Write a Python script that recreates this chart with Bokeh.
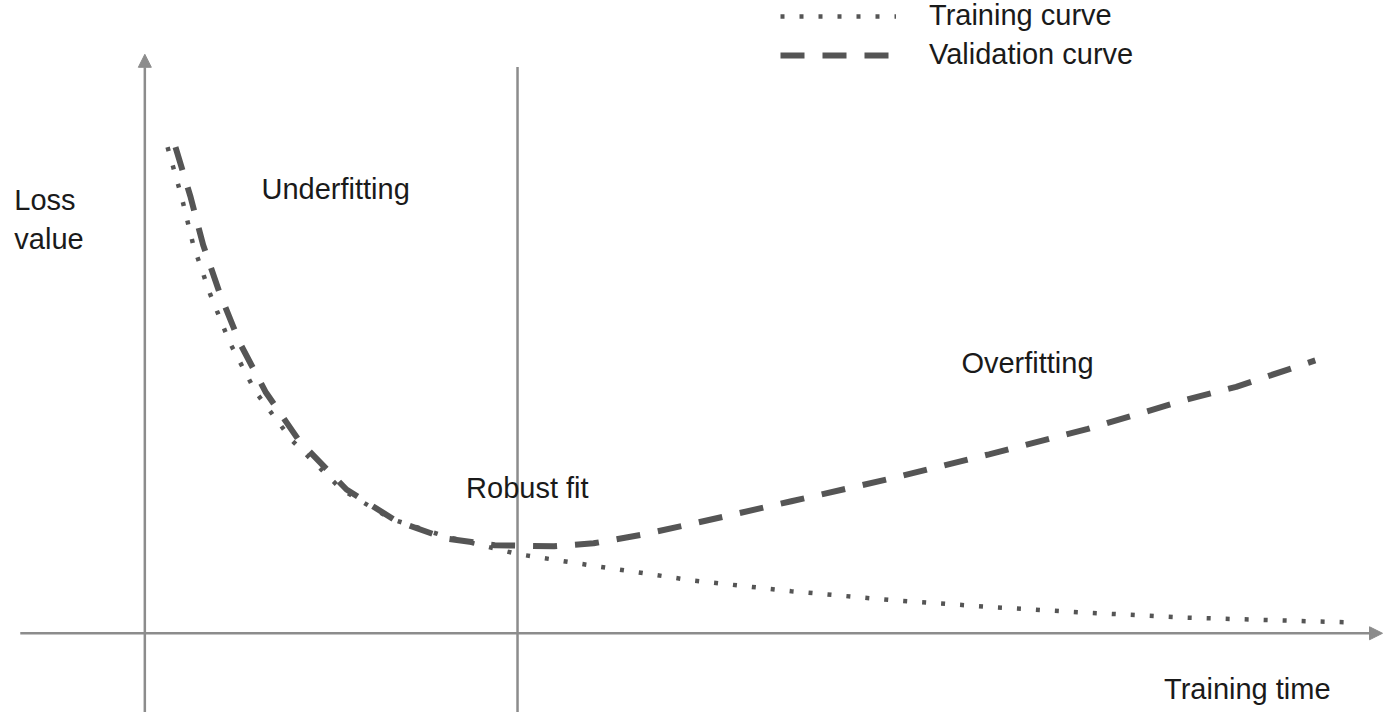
from bokeh.plotting import figure
from bokeh.models import Range1d, Arrow, NormalHead, Legend, LegendItem
from bokeh.core.properties import value
from bokeh.embed import file_html
from bokeh.resources import INLINE

# ---- data (arbitrary units: training time vs loss value) ----
train_time = [0.23, 0.37, 0.49, 0.66, 0.86, 1.12, 1.49, 1.99, 2.49, 3.04, 3.77,
              4.54, 5.54, 6.54, 7.54, 8.54, 9.54, 10.54, 11.54, 12.24]
train_loss = [4.97, 4.47, 3.97, 3.47, 2.97, 2.47, 1.97, 1.47, 1.17, 0.99, 0.81,
              0.69, 0.54, 0.43, 0.34, 0.27, 0.21, 0.16, 0.13, 0.11]

val_time = [0.31, 0.46, 0.59, 0.76, 0.96, 1.22, 1.56, 2.04, 2.54, 3.04, 3.54,
            4.14, 4.54, 5.04, 5.54, 6.54, 7.54, 8.54, 9.54, 10.54, 11.04, 11.84]
val_loss = [4.97, 4.47, 3.97, 3.47, 2.97, 2.47, 1.97, 1.47, 1.15, 0.97, 0.90,
            0.89, 0.92, 1.01, 1.12, 1.35, 1.58, 1.83, 2.09, 2.39, 2.52, 2.79]

robust_fit_time = 3.77
series_labels = ["Training curve", "Validation curve"]

region_labels = ["Underfitting", "Robust fit", "Overfitting"]
region_x = [1.18, 3.25, 8.26]
region_y = [4.54, 1.49, 2.76]

axis_labels = ["Loss", "value", "Training time"]
axis_label_x = [-1.32, -1.32, 10.31]
axis_label_y = [4.43, 4.03, -0.57]

# ---- figure ----
W, H = 1384, 712
p = figure(width=W, height=H, output_backend="svg", toolbar_location=None,
           x_range=Range1d(-1.46, 12.54), y_range=Range1d(-0.81, 6.47),
           min_border=0, min_border_left=0, min_border_right=0,
           min_border_top=0, min_border_bottom=0)
p.axis.visible = False
p.xgrid.visible = False
p.ygrid.visible = False
p.outline_line_color = None
p.background_fill_color = "white"
p.border_fill_color = "white"

AX = "#8c8c8c"
CUR = "#555555"
TXT = "#1a1a1a"
FONT_NAME = "Liberation Sans"
FONT = value(FONT_NAME)
FS = "29px"

# axes with arrows
p.add_layout(Arrow(end=NormalHead(size=13, fill_color=AX, line_color=AX),
                   x_start=-1.26, y_start=0, x_end=12.52, y_end=0,
                   line_color=AX, line_width=2.5))
p.add_layout(Arrow(end=NormalHead(size=13, fill_color=AX, line_color=AX),
                   x_start=0, y_start=-0.81, x_end=0, y_end=5.92,
                   line_color=AX, line_width=2.5))
# robust fit divider
p.segment(x0=[robust_fit_time], y0=[-0.81], x1=[robust_fit_time], y1=[5.79],
          line_color=AX, line_width=2.5)

# curves
r_train = p.line(train_time, train_loss, line_color=CUR, line_width=4.5,
                 line_dash="4 15", line_cap="butt")
r_val = p.line(val_time, val_loss, line_color=CUR, line_width=6,
               line_dash="24 18", line_cap="butt")

# texts
p.text(x=region_x, y=region_y, text=region_labels, text_font=FONT,
       text_font_size=FS, text_color=TXT, text_baseline="alphabetic",
       text_align="left")
p.text(x=axis_label_x, y=axis_label_y, text=axis_labels, text_font=FONT,
       text_font_size=FS, text_color=TXT, text_baseline="alphabetic",
       text_align="left")

# legend
legend = Legend(items=[LegendItem(label=series_labels[0], renderers=[r_train]),
                       LegendItem(label=series_labels[1], renderers=[r_val])],
                location=(780, 641), orientation="vertical",
                glyph_width=116, glyph_height=30, label_height=30,
                label_standoff=33, spacing=6, padding=0, margin=0,
                border_line_color=None, background_fill_alpha=0,
                label_text_font=FONT_NAME, label_text_font_size=FS,
                label_text_color=TXT)
p.add_layout(legend, "center")

open("out.html", "w").write(file_html(p, INLINE))
